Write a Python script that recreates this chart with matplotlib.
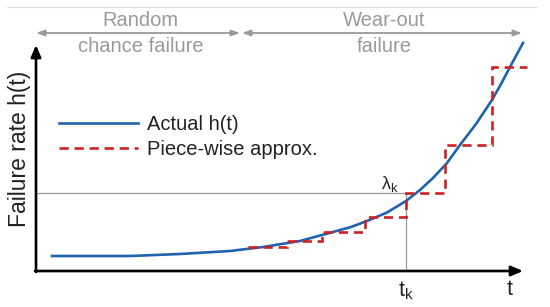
import matplotlib
matplotlib.use("Agg")
import matplotlib.pyplot as plt
from matplotlib.lines import Line2D

plt.rcParams['font.family'] = ['Liberation Sans', 'DejaVu Sans']
plt.rcParams['mathtext.fontset'] = 'custom'
plt.rcParams['mathtext.rm'] = 'Liberation Sans'
plt.rcParams['mathtext.it'] = 'Liberation Sans'

# actual failure rate curve
t_curve = [0.32, 0.88, 1.88, 2.88, 3.88, 4.54, 5.28, 5.94, 6.30, 6.62, 7.02,
           7.40, 7.68, 7.94, 8.22, 8.48, 8.80, 9.12, 9.30, 9.48, 9.74]
h_curve = [0.30, 0.30, 0.30, 0.34, 0.40, 0.48, 0.60, 0.78, 0.88, 1.00, 1.17,
           1.40, 1.62, 1.86, 2.16, 2.52, 2.94, 3.42, 3.74, 4.08, 4.56]

# piece-wise constant approximation
step_edges = [4.24, 5.02, 5.72, 6.58, 7.40, 8.18, 9.12, 9.82]
step_levels = [0.48, 0.60, 0.78, 1.08, 1.56, 2.52, 4.08]

t_k = 7.40
lambda_k = 1.56

# axis extents and region arrows
t_axis_end = 9.74
h_axis_end = 4.52
region_y = 4.76
region_edges = [0.0, 4.08, 4.12, 9.72]
region_names = [("Random", "chance failure"), ("Wear-out", "failure")]

blue = '#1f63ae'
red = '#cc2222'
gray = '#9a9a9a'

fig = plt.figure(figsize=(5.5, 3.07), dpi=100)
ax = fig.add_axes([0, 0, 1, 1])
ax.set_xlim(-0.72, 10.28)
ax.set_ylim(-0.72, 5.42)
ax.axis('off')

# faint line at the very top
ax.plot([-0.58, 10.02], [5.28, 5.28], color='#e2e2e2', lw=0.8)

# axes with arrow heads
ax.annotate('', xy=(t_axis_end, 0), xytext=(-0.02, 0),
            arrowprops=dict(arrowstyle='-|>,head_length=0.7,head_width=0.3',
                            color='black', lw=1.9, shrinkA=0, shrinkB=0))
ax.annotate('', xy=(0, h_axis_end), xytext=(0, -0.02),
            arrowprops=dict(arrowstyle='-|>,head_length=0.7,head_width=0.3',
                            color='black', lw=1.9, shrinkA=0, shrinkB=0))

# region arrows and labels
for i, (top, bottom) in enumerate(region_names):
    x0, x1 = region_edges[2 * i], region_edges[2 * i + 1]
    ax.annotate('', xy=(x1, region_y), xytext=(x0, region_y),
                arrowprops=dict(arrowstyle='<|-|>,head_length=0.5,head_width=0.18',
                                color=gray, lw=1.3, shrinkA=0, shrinkB=0))
    xc = (x0 + x1) / 2
    ax.text(xc + 0.05, region_y + 0.24, top, ha='center', va='center',
            fontsize=14.5, color=gray)
    ax.text(xc + 0.05, region_y - 0.26, bottom, ha='center', va='center',
            fontsize=14.5, color=gray)

# lambda_k and t_k guide lines
ax.plot([0, t_k], [lambda_k, lambda_k], color=gray, lw=0.9)
ax.plot([t_k, t_k], [0, lambda_k], color=gray, lw=0.9)

ax.plot(t_curve, h_curve, color=blue, lw=1.9, label='Actual h(t)', zorder=3)
ax.stairs(step_levels, step_edges, baseline=None, color=red, lw=1.9,
          linestyle=(0, (3.5, 2.2)), zorder=4)

ax.text(t_k - 0.32, lambda_k + 0.08, r'$\mathrm{\lambda_k}$', ha='center',
        va='baseline', fontsize=13, color='#222222')
ax.text(t_k, -0.5, r'$\mathrm{t_k}$', ha='center', va='baseline',
        fontsize=15.5, color='#222222')
ax.text(9.48, -0.48, 't', ha='center', va='baseline', fontsize=15.5,
        color='#222222')
ax.text(-0.32, 2.44, 'Failure rate h(t)', rotation=90, ha='center',
        va='center', fontsize=16.5, color='#222222')

handles = [Line2D([], [], color=blue, lw=1.9),
           Line2D([], [], color=red, lw=1.9, linestyle=(0, (3.5, 2.2)))]
ax.legend(handles, ['Actual h(t)', 'Piece-wise approx.'], loc='upper left',
          bbox_to_anchor=(59 / 550, 1 - 115 / 307), frameon=False,
          fontsize=14.5, handlelength=3.9, handletextpad=0.45,
          labelspacing=0.3, borderpad=0, borderaxespad=0,
          labelcolor='#222222')

fig.savefig('out.png', dpi=100)
